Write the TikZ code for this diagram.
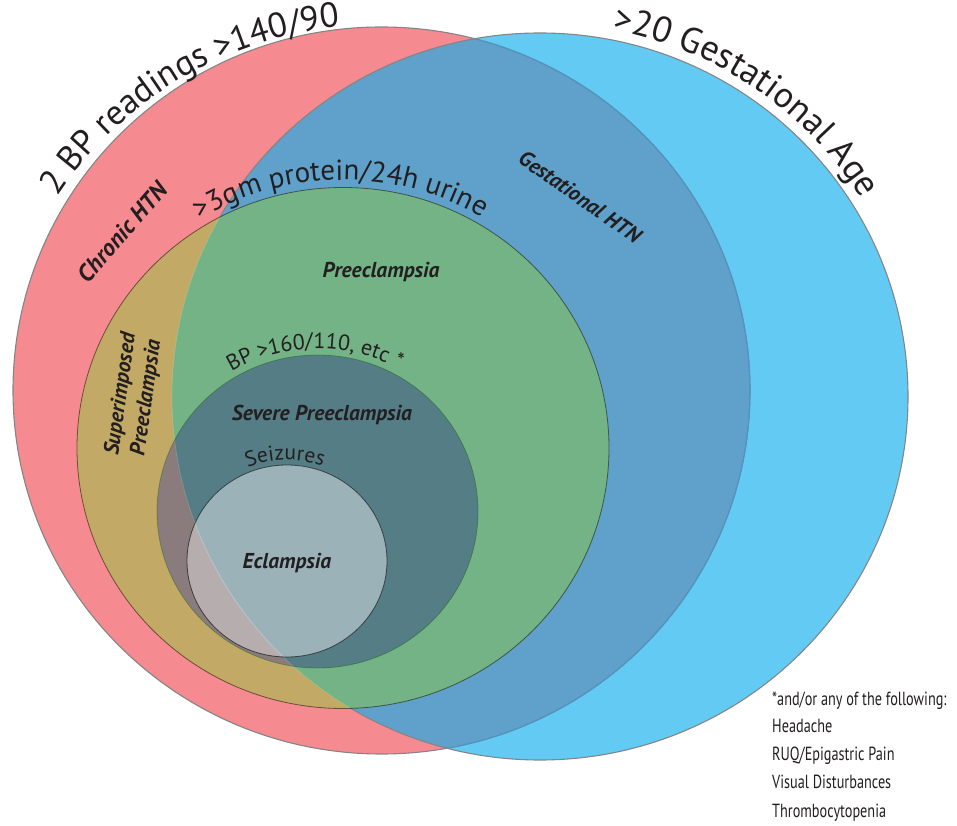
\documentclass[tikz,border=0pt]{standalone}
\usepackage{fontspec}
\setmainfont{PT Sans}
\newfontfamily\condfont[FakeStretch=0.75]{PT Sans}
\usetikzlibrary{decorations.text}
\definecolor{txt}{HTML}{231F20}
\definecolor{cred}{HTML}{F58A90}
\definecolor{cblue}{HTML}{63CBF3}
\definecolor{cbluered}{HTML}{5FA1CA}
\definecolor{cgreen}{HTML}{73B386}
\definecolor{colive}{HTML}{C2A965}
\definecolor{cdark}{HTML}{557D86}
\definecolor{cmauve}{HTML}{8A7B7C}
\definecolor{clight}{HTML}{9AB2B8}
\definecolor{clightr}{HTML}{B6AEAE}
\definecolor{edgegray}{HTML}{858585}
\definecolor{edgeblue}{HTML}{4A97C6}
\begin{document}
\begin{tikzpicture}[x=1pt,y=1pt,
  lab/.style={font=\fontsize{21.5}{26}\selectfont\bfseries\itshape, text=txt, inner sep=0pt},
  leg/.style={font=\condfont\fontsize{19}{19}\selectfont, text=txt, inner sep=0pt, anchor=base west},
  outer/.style={draw=edgegray, line width=1.1pt},
  inner/.style={draw=black, draw opacity=0.5, line width=0.8pt}]
\useasboundingbox (0,0) rectangle (957,825);
\def\redP{(381.5,434.5) ellipse [x radius=368.5, y radius=363.5]}
\def\blueP{(540,428.5) ellipse [x radius=368, y radius=363.5]}
\def\greenP{(343,377) ellipse [x radius=266, y radius=260.5]}
\def\darkP{(317.5,313.5) ellipse [x radius=160.5, y radius=156.5]}
\def\lightP{(287,264) ellipse [x radius=100, y radius=96]}
% big circles
\fill[cred] \redP;
\fill[cblue] \blueP;
\begin{scope}
  \clip \redP;
  \fill[cbluered] \blueP;
\end{scope}
% red outline: gray outside blue, bluish inside blue
\draw[outer] \redP;
\begin{scope}
  \clip \blueP;
  \draw[draw=edgeblue, line width=1.1pt] \redP;
\end{scope}
\draw[outer] \blueP;
% green
\fill[colive] \greenP;
\begin{scope}
  \clip \blueP;
  \fill[cgreen] \greenP;
\end{scope}
\begin{scope}
  \clip \greenP;
  \draw[draw=white, draw opacity=0.15, line width=0.8pt] \blueP;
\end{scope}
\draw[inner] \greenP;
% severe
\fill[cmauve] \darkP;
\begin{scope}
  \clip \blueP;
  \fill[cdark] \darkP;
\end{scope}
\begin{scope}
  \clip \darkP;
  \draw[draw=white, draw opacity=0.15, line width=0.8pt] \blueP;
\end{scope}
\draw[draw=black!60!green, draw opacity=0.35, line width=0.8pt] \darkP;
% eclampsia
\fill[clightr] \lightP;
\begin{scope}
  \clip \blueP;
  \fill[clight] \lightP;
\end{scope}
\begin{scope}
  \clip \lightP;
  \draw[draw=white, draw opacity=0.25, line width=0.8pt] \blueP;
\end{scope}
\draw[draw=black, draw opacity=0.6, line width=0.8pt] \lightP;
% curved texts
\path[decorate, decoration={text along path, text align=left,
  text={|\fontsize{35}{35}\selectfont\color{txt}|2 BP readings >140/90}}]
  (381.5,434.5) ++(148:382 and 366) arc[start angle=148, end angle=40, x radius=382, y radius=366];
\path[decorate, decoration={text along path, text align=left,
  text={|\fontsize{36}{36}\selectfont\color{txt}|>20 Gestational Age}}]
  (540,428.5) ++(79:379 and 374) arc[start angle=79, end angle=0, x radius=379, y radius=374];
\path[decorate, decoration={text along path, text align=left,
  text={|\fontsize{29}{29}\selectfont\color{txt}|>3gm protein/24h urine}}]
  (343,377) ++(121.5:274 and 268) arc[start angle=121.5, end angle=20, x radius=274, y radius=268];
\path[decorate, decoration={text along path, text align=left,
  text={|\fontsize{22}{22}\selectfont\color{txt}|BP >160/110, etc *}}]
  (317.5,313.5) ++(121:167 and 163) arc[start angle=121, end angle=30, x radius=167, y radius=163];
\path[decorate, decoration={text along path, text align=left,
  text={|\fontsize{21.5}{21.5}\selectfont\color{txt}|Seizures}}]
  (287,264) ++(112:105 and 101) arc[start angle=112, end angle=30, x radius=105, y radius=101];
% labels
\node[lab] (preec) at (381,553) {Preeclampsia};
\node[lab] (severe) at (322,410) {Severe Preeclampsia};
\node[lab] (eclampsia) at (287,262) {Eclampsia};
\node[lab, font=\fontsize{24}{26}\selectfont\bfseries\itshape, rotate=49] (chronic) at (122,593) {Chronic HTN};
\node[lab, rotate=-35] (gesthtn) at (580,628) {Gestational HTN};
\node[lab, rotate=82, align=center] (superimp) at (134,429) {Superimposed\\Preeclampsia};
% legend
\node[leg] (leg1) at (772,120) {*and/or any of the following:};
\node[leg] (leg2) at (772,93) {Headache};
\node[leg] (leg3) at (772,65) {RUQ/Epigastric Pain};
\node[leg] (leg4) at (772,37) {Visual Disturbances};
\node[leg] (leg5) at (772,8) {Thrombocytopenia};
\end{tikzpicture}
\end{document}
